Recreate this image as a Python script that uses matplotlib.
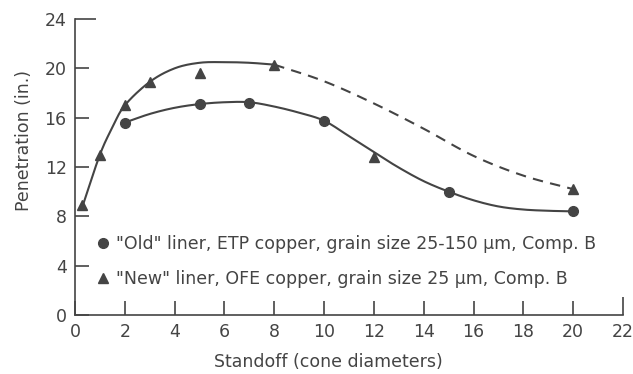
import matplotlib
matplotlib.use('Agg')
import matplotlib.pyplot as plt
from matplotlib.lines import Line2D
import numpy as np

plt.rcParams['font.family'] = ['DejaVu Sans']

# measured penetration, "old" liner (ETP copper)
old_x = [2, 5, 7, 10, 15, 20]
old_y = [15.6, 17.1, 17.2, 15.75, 10.0, 8.4]

# measured penetration, "new" liner (OFE copper)
new_x = [0.3, 1, 2, 3, 5, 8, 12, 20]
new_y = [8.9, 13.0, 17.0, 18.9, 19.65, 20.3, 12.8, 10.2]

# hand-faired trend curves
old_fit_x = [2, 3, 4, 5, 6, 7, 8, 9, 10, 11, 12, 13, 14, 15, 16, 17, 18, 19, 20]
old_fit_y = [15.6, 16.3, 16.8, 17.1, 17.25, 17.25, 16.9, 16.4, 15.75, 14.5,
             13.2, 11.95, 10.85, 10.0, 9.3, 8.8, 8.55, 8.45, 8.4]
new_fit_x = [0.3, 1, 1.5, 2, 3, 4, 5, 6, 7, 8]
new_fit_y = [8.8, 13.0, 15.2, 17.0, 18.9, 20.0, 20.45, 20.5, 20.45, 20.3]
new_ext_x = [8, 10, 12, 14, 16, 18, 20]
new_ext_y = [20.3, 18.95, 17.15, 15.1, 12.9, 11.3, 10.2]

x_ticks = list(range(0, 23, 2))
y_ticks = list(range(0, 25, 4))

old_label = '"Old" liner, ETP copper, grain size 25-150 \u03bcm, Comp. B'
new_label = '"New" liner, OFE copper, grain size 25 \u03bcm, Comp. B'

ink = '#444444'


def smooth(xs, ys, n=20):
    # Catmull-Rom pass through the faired points so the curve draws smoothly
    p = np.column_stack([xs, ys]).astype(float)
    p = np.vstack([2 * p[0] - p[1], p, 2 * p[-1] - p[-2]])
    out = []
    t = np.linspace(0, 1, n, endpoint=False)[:, None]
    for i in range(1, len(p) - 2):
        p0, p1, p2, p3 = p[i - 1], p[i], p[i + 1], p[i + 2]
        seg = 0.5 * ((2 * p1) + (-p0 + p2) * t + (2 * p0 - 5 * p1 + 4 * p2 - p3) * t ** 2
                     + (-p0 + 3 * p1 - 3 * p2 + p3) * t ** 3)
        out.append(seg)
    out.append(p[-2][None, :])
    out = np.vstack(out)
    return out[:, 0], out[:, 1]


fig = plt.figure(figsize=(6.33, 3.74), dpi=100)
ax = fig.add_axes([0.1185, 0.1578, 0.8657, 0.7914])

sx, sy = smooth(old_fit_x, old_fit_y)
ax.plot(sx, sy, color=ink, lw=1.5)
sx, sy = smooth(new_fit_x, new_fit_y)
ax.plot(sx, sy, color=ink, lw=1.5)
sx, sy = smooth(new_ext_x, new_ext_y)
ax.plot(sx, sy, color=ink, lw=1.5, dashes=(5, 3.5))

ax.plot(old_x, old_y, 'o', color=ink, ms=7, zorder=3)
ax.plot(new_x, new_y, '^', color=ink, ms=7, zorder=3)

ax.set_xlim(0, 22)
ax.set_ylim(0, 24)
ax.set_xticks(x_ticks)
ax.set_yticks(y_ticks)
for s in ['top', 'right']:
    ax.spines[s].set_visible(False)
for s in ['left', 'bottom']:
    ax.spines[s].set_color(ink)
    ax.spines[s].set_linewidth(1.2)
ax.tick_params(direction='in', length=10, width=1.2, color=ink,
               labelcolor=ink, labelsize=12.5, pad=6)
ax.yaxis.get_major_ticks()[-1].tick1line.set_markersize(15)
ax.xaxis.get_major_ticks()[-1].tick1line.set_markersize(13)

ax.set_xlabel('Standoff (cone diameters)', fontsize=12.5, color=ink)
ax.set_ylabel('Penetration (in.)', fontsize=12.5, color=ink)
ax.xaxis.set_label_coords(0.462, -0.128)
ax.yaxis.set_label_coords(-0.077, 0.59)

handles = [Line2D([], [], ls='none', marker='o', color=ink, ms=7),
           Line2D([], [], ls='none', marker='^', color=ink, ms=7)]
leg = ax.legend(handles, [old_label, new_label], loc='upper left',
                bbox_to_anchor=(0.025, 0.30), frameon=False, fontsize=12.5,
                handlelength=0.6, handletextpad=0.5, labelspacing=1.0,
                borderpad=0)
for t in leg.get_texts():
    t.set_color(ink)

fig.savefig('out.png', dpi=100)
